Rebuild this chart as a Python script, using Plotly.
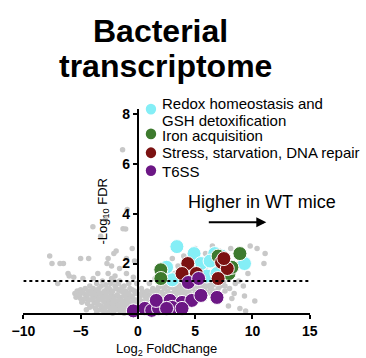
import plotly.graph_objects as go

# ---------------- data ----------------
gray_x = [
    -7.7, -7.5, -6.8, -6.5, -5.0, -4.3, -6.1, -6.0, -5.6, -3.5,
    -2.7, -2.1, -1.9, -0.5, -2.6, -1.6, -1.34, -3.93, -2.84, -3.25,
    -1.07, -0.93, -1.3, -0.3, -1.0, -2.3, -4.8, -7.0,
    -5.5, -5.3, -5.2, -5.0, -5.0, -4.8, -4.7, -4.6, -4.5, -4.4,
    -4.3, -4.2, -4.1, -4.0, -4.0, -3.9, -3.8, -3.7, -3.7, -3.6,
    -3.5, -3.4, -3.4, -3.3, -3.2, -3.1, -3.0, -3.0, -2.9, -2.8,
    -2.8, -2.7, -2.6, -2.5, -2.5, -2.4, -2.3, -2.3, -2.2, -2.1,
    -2.0, -2.0, -1.9, -1.8, -1.8, -1.7, -1.6, -1.6, -1.5, -1.5,
    -1.4, -1.3, -1.3, -1.2, -1.1, -1.0, -1.0, -0.9, -0.8, -0.8,
    -0.7, -0.6, -0.6, -0.5, -0.4, -0.3, -0.3, -0.2, -0.1, -0.1,
    -3.6, -4.5, -2.2, -1.2, -0.5, -3.9, -2.0, -1.0, -0.4, -2.6,
    -5.4, -5.1, -4.9, -4.9, -4.6, -4.4, -4.3, -4.2, -4.1, -3.9,
    -3.8, -3.6, -3.6, -3.5, -3.4, -3.3, -3.2, -3.2, -3.1, -3.0,
    -2.9, -2.9, -2.8, -2.7, -2.7, -2.6, -2.6, -2.5, -2.4, -2.4,
    -2.3, -2.2, -2.2, -2.1, -2.1, -2.0, -1.9, -1.9, -1.8, -1.7,
    -1.7, -1.6, -1.5, -1.4, -1.4, -1.3, -1.2, -1.1, -1.1, -1.0,
    -0.9, -0.9, -0.8, -0.7, -0.7, -0.6, -0.5, -0.4, -0.3, -0.2,
    0.1, 0.2, 0.3, 0.4, 0.5, 0.6, 0.7, 0.8, 0.9, 1.0,
    1.1, 1.2, 1.3, 1.4, 1.5, 1.6, 1.7, 1.8, 1.9, 2.0,
    2.1, 2.2, 2.3, 2.4, 2.5, 2.6, 2.7, 2.8, 2.9, 3.0,
    3.1, 3.2, 3.3, 3.4, 3.5, 3.6, 3.7, 3.8, 3.9, 4.0,
    4.1, 4.2, 4.3, 4.4, 4.5, 4.6, 4.7, 4.8, 4.9, 5.0,
    5.1, 5.2, 5.3, 5.4, 5.5, 5.6, 5.7, 5.8, 5.9, 6.0,
    6.1, 6.2, 6.3, 6.4, 6.5, 6.6, 6.7, 6.8, 6.9, 7.0,
    7.1, 7.2, 7.3, 7.4, 7.5, 7.6, 7.8, 8.0, 0.0, 0.3,
    0.1, 0.2, 0.3, 0.4, 0.5, 0.6, 0.7, 0.8, 0.9, 1.0,
    1.1, 1.2, 1.3, 1.4, 1.5, 1.6, 1.7, 1.8, 1.9, 2.0,
    2.1, 2.2, 2.3, 2.4, 2.5, 2.6, 2.7, 2.8, 2.9, 3.0,
    3.1, 3.2, 3.3, 3.4, 3.5, 3.6, 3.7, 3.8, 3.9, 4.0,
    4.1, 4.2, 4.3, 4.4, 4.6, 4.8, 5.0, 5.2, 5.4, 5.6,
    5.8, 6.0, 6.2, 6.4, 6.6, 6.8, 7.0, 7.2, 7.4, 7.6,
    2.0, 2.7, 3.0, 3.5, 4.0, 4.6, 5.0, 5.3, 5.6, 5.9,
    6.2, 6.5, 6.8, 7.1, 7.6, 8.1, 8.3, 8.6, 9.0, 9.8,
    10.4, 11.1, 11.0, 9.6, 8.8, 1.5, 1.0, 4.3, 3.2, 6.0,
    9.2, 9.3, 10.2, 8.9, 9.4, 8.4, 8.2, 8.0, 7.6, 7.2,
    6.8, 8.5, 7.9, 6.4, 5.8,
]
gray_y = [
    2.3, 2.0, 2.0, 2.0, 2.2, 2.2, 1.6, 1.5, 1.45, 1.6,
    2.0, 2.4, 2.5, 2.6, 2.2, 1.8, 6.57, 3.48, 3.77, 3.1,
    3.39, 4.17, 3.4, 2.1, 2.2, 1.9, 1.4, 1.2,
    0.8, 0.9, 0.7, 0.6, 0.95, 0.5, 0.8, 1.0, 0.65, 0.4,
    0.9, 1.1, 0.55, 0.3, 0.75, 1.0, 0.45, 0.2, 0.85, 1.2,
    0.6, 0.35, 1.0, 0.15, 0.75, 1.3, 0.5, 0.1, 0.9, 0.3,
    1.15, 0.65, 0.05, 0.45, 1.0, 0.2, 0.8, 1.4, 0.55, 0.1,
    0.35, 1.1, 0.7, 0.15, 0.5, 0.95, 0.3, 1.3, 0.05, 0.65,
    0.4, 0.85, 0.15, 1.1, 0.3, 0.55, 0.05, 0.8, 0.2, 1.2,
    0.4, 0.1, 0.65, 0.95, 0.3, 0.05, 0.55, 0.8, 0.2, 1.2,
    0.05, 0.15, 0.0, 0.0, 0.0, 1.4, 1.5, 1.6, 1.45, 1.6,
    0.65, 0.75, 0.85, 0.45, 0.6, 0.75, 0.55, 0.25, 0.9, 0.6,
    0.8, 0.4, 0.7, 0.95, 0.55, 0.8, 0.3, 1.1, 0.6, 0.85,
    0.45, 0.2, 0.7, 1.0, 0.35, 0.55, 0.85, 0.25, 0.65, 1.2,
    0.4, 0.9, 0.25, 0.65, 1.3, 0.5, 0.2, 1.0, 0.75, 0.35,
    1.2, 0.55, 0.9, 0.2, 1.05, 0.5, 0.7, 0.1, 0.9, 0.4,
    0.6, 0.25, 0.8, 0.15, 1.0, 0.45, 0.7, 0.15, 0.9, 0.45,
    0.3, 0.7, 0.5, 0.15, 0.85, 0.4, 0.6, 0.25, 0.75, 0.5,
    0.35, 0.9, 0.6, 0.45, 0.75, 0.3, 0.95, 0.55, 0.7, 0.4,
    0.85, 0.6, 1.0, 0.5, 0.75, 0.9, 0.45, 0.65, 1.05, 0.8,
    0.55, 0.95, 0.7, 1.1, 0.85, 0.6, 1.0, 0.75, 1.2, 0.9,
    0.7, 1.05, 0.85, 1.25, 0.95, 0.75, 1.15, 1.0, 1.3, 0.85,
    1.1, 1.35, 0.95, 1.2, 1.05, 1.4, 1.15, 0.95, 1.3, 1.1,
    1.45, 1.2, 1.0, 1.35, 1.55, 1.15, 1.4, 1.25, 1.6, 1.3,
    1.5, 1.1, 1.45, 1.7, 1.3, 1.55, 1.4, 1.6, 0.1, 1.0,
    0.6, 0.2, 0.8, 0.45, 0.1, 0.7, 0.3, 0.9, 0.5, 0.15,
    0.7, 0.4, 1.0, 0.25, 0.55, 0.85, 0.4, 1.05, 0.3, 0.7,
    1.1, 0.35, 0.75, 1.15, 0.45, 0.6, 1.1, 0.4, 0.8, 1.15,
    0.45, 0.75, 1.0, 0.5, 1.2, 0.85, 0.55, 1.1, 0.65, 1.2,
    0.55, 0.85, 1.15, 0.6, 1.05, 0.7, 1.2, 0.8, 1.0, 0.75,
    1.25, 0.85, 1.4, 1.05, 0.9, 1.45, 1.0, 1.55, 1.2, 1.1,
    1.6, 1.3, 2.2, 1.9, 2.3, 1.7, 2.6, 2.0, 1.8, 2.4,
    2.1, 2.7, 1.9, 2.5, 2.2, 2.6, 2.0, 1.8, 2.2, 2.7,
    2.6, 2.4, 2.0, 1.6, 1.3, 1.4, 1.2, 1.5, 1.6, 1.9,
    1.1, 0.7, 0.5, 0.2, 0.1, 0.8, 0.6, 1.0, 0.9, 0.7,
    0.5, 1.2, 0.3, 0.8, 0.6,
]

redox_x = [3.4, 4.9, 6.7, 7.3, 9.3, 4.3, 6.0, 5.5, 2.5, 4.4, 6.9, 6.3, 3.9, 3.0]
redox_y = [2.68, 2.4, 2.4, 2.3, 2.0, 1.6, 1.5, 2.0, 1.85, 1.9, 1.6, 2.1, 1.5, 1.35]

iron_x = [8.9, 2.0, 2.0, 7.95, 7.5, 7.0, 8.2]
iron_y = [2.4, 1.75, 1.4, 1.6, 2.0, 2.3, 1.85]

stress_x = [4.35, 3.85, 5.1, 7.3, 7.8, 7.0, 7.5]
stress_y = [2.0, 1.6, 1.6, 2.05, 1.8, 1.4, 2.2]

t6ss_x = [4.4, 5.3, -0.4, 0.6, 1.2, 1.8, 2.8, 1.6, 3.85, 4.7, 5.5, 6.9, 3.0, 2.5, 3.85]
t6ss_y = [1.24, 1.4, 0.1, 0.2, 0.12, 0.2, 0.52, 0.52, 0.44, 0.52, 0.72, 0.64, 0.24, 0.2, 0.2]

group_names = ["Redox homeostasis and<br>GSH detoxification", "Iron acquisition",
               "Stress, starvation, DNA repair", "T6SS"]
group_colors = ["#84eef6", "#3d7a2e", "#7b1212", "#6c1785"]

x_ticks = [-10, -5, 0, 5, 10, 15]
y_ticks = [2, 4, 6, 8]
fdr_threshold = 1.3

W, H = 366, 358
FONT = "Liberation Sans, Arial, sans-serif"


def px_x(p):
    return p / W


def px_y(p):
    return 1 - p / H


fig = go.Figure()
fig.add_trace(go.Scatter(x=gray_x, y=gray_y, mode="markers", showlegend=False,
                         marker=dict(size=5.5, color="#c8c8c8"), cliponaxis=False))

series = [(redox_x, redox_y), (iron_x, iron_y), (stress_x, stress_y), (t6ss_x, t6ss_y)]
for name, (xs, ys), col in zip(group_names, series, group_colors):
    fig.add_trace(go.Scatter(x=xs, y=ys, mode="markers", name=name.replace("<br>", " "),
                             showlegend=False, cliponaxis=False,
                             marker=dict(size=14, color=col, line=dict(color="white", width=1))))

# threshold line
fig.add_shape(type="line", x0=-10, x1=15, y0=fdr_threshold, y1=fdr_threshold,
              xref="x", yref="y", line=dict(color="black", width=2, dash="dot"))

# legend (drawn manually for exact spacing)
leg_marker_y = [107, 132, 151, 169]
leg_lines = [[("Redox homeostasis and", 101.5), ("GSH detoxification", 118)],
             [("Iron acquisition", 133.5)],
             [("Stress, starvation, DNA repair", 151)],
             [("T6SS", 169.5)]]
r = 5.5
for col, my, lines in zip(group_colors, leg_marker_y, leg_lines):
    fig.add_shape(type="circle", xref="paper", yref="paper",
                  x0=px_x(147 - r), x1=px_x(147 + r), y0=px_y(my + r), y1=px_y(my - r),
                  fillcolor=col, line=dict(width=0))
    for txt, ty in lines:
        fig.add_annotation(text=txt, x=px_x(157), y=px_y(ty), xref="paper", yref="paper",
                           showarrow=False, xanchor="left", yanchor="middle",
                           font=dict(size=15, family=FONT))

fig.update_layout(
    width=W, height=H, margin=dict(l=0, r=0, t=0, b=0),
    paper_bgcolor="white", plot_bgcolor="white",
    font=dict(family=FONT, color="black"),
    showlegend=False,
    xaxis=dict(range=[-10, 15], domain=[px_x(12), px_x(315)], tickvals=x_ticks,
               showgrid=False, zeroline=False, showline=True, linecolor="black", linewidth=2,
               ticks="outside", ticklen=4, tickwidth=2, tickcolor="black",
               tickfont=dict(size=14, family=FONT, weight="bold"),
               title=dict(text="Log<sub>2</sub> FoldChange", font=dict(size=13), standoff=6)),
    yaxis=dict(range=[0, 8.2], domain=[px_y(313), px_y(107)], tickvals=y_ticks,
               anchor="free", position=px_x(133),
               showgrid=False, zeroline=False, showline=True, linecolor="black", linewidth=2,
               ticks="outside", ticklen=4, tickwidth=2, tickcolor="black",
               tickfont=dict(size=14, family=FONT, weight="bold"),
               title=dict(text="-Log<sub>10</sub> FDR", font=dict(size=13), standoff=11)),
)

fig.add_annotation(text="<b>Bacterial</b>", x=px_x(157), y=px_y(28), xref="paper", yref="paper",
                   showarrow=False, font=dict(size=32, family=FONT), xanchor="center", yanchor="middle")
fig.add_annotation(text="<b>transcriptome</b>", x=px_x(162), y=px_y(64), xref="paper", yref="paper",
                   showarrow=False, font=dict(size=32, family=FONT), xanchor="center", yanchor="middle")
fig.add_annotation(text="Higher in WT mice", x=px_x(264), y=px_y(200.5), xref="paper", yref="paper",
                   showarrow=False, font=dict(size=18, family=FONT), xanchor="center", yanchor="middle")
fig.add_annotation(text="", x=px_x(269), y=px_y(221), xref="paper", yref="paper",
                   showarrow=True, ax=-59, ay=0, arrowhead=2, arrowwidth=2, arrowsize=1,
                   arrowcolor="black")

fig.write_html("out.html", config={"displayModeBar": False},
               post_script="document.body.style.margin='0';")
